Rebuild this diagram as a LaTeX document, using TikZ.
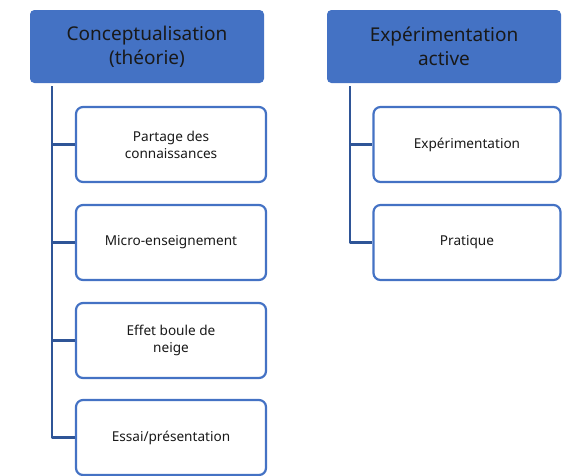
\documentclass[tikz,border=0pt]{standalone}
\usepackage{fontspec}
\setmainfont{Noto Sans}
\definecolor{hdblue}{HTML}{4472C4}
\definecolor{lnblue}{HTML}{2F5597}
\begin{document}
\begin{tikzpicture}[x=1pt,y=-1pt,line join=round,
	head/.style={draw=hdblue,fill=hdblue,rounded corners=4pt,line width=1pt,minimum width=233pt,minimum height=72pt,align=center,font=\fontsize{19}{24}\selectfont,text=black!90,inner sep=0pt},
	item/.style={draw=hdblue,fill=white,rounded corners=7pt,line width=2.2pt,minimum width=190pt,minimum height=75pt,align=center,font=\fontsize{13.6}{17}\selectfont,text=black!90,inner sep=0pt},
	conn/.style={draw=lnblue,line width=2.6pt}]
	\useasboundingbox (0,0) rectangle (562,475);
	% en-tetes
	\node[head] (theo) at (147,46.5) {Conceptualisation\\(théorie)};
	\node[head] (expe) at (444,46.5) {Expérimentation\\active};
	% colonne gauche
	\node[item] (c1) at (171,144.5) {Partage des\\connaissances};
	\node[item] (c2) at (171,242.5) {Micro-enseignement};
	\node[item] (c3) at (171,340.5) {Effet boule de\\neige};
	\node[item] (c4) at (171,437.5) {Essai/présentation};
	% colonne droite
	\node[item,minimum width=187pt] (e1) at (467,144.5) {Expérimentation};
	\node[item,minimum width=187pt] (e2) at (467,242.5) {Pratique};
	% liaisons
	\coordinate (t1) at (52,86);
	\coordinate (t2) at (350,86);
	\draw[conn] (t1) |- (c4.west);
	\foreach \n in {c1,c2,c3}
		\draw[conn] (t1 |- \n.west) -- (\n.west);
	\draw[conn] (t2) |- (e2.west);
	\draw[conn] (t2 |- e1.west) -- (e1.west);
\end{tikzpicture}
\end{document}
